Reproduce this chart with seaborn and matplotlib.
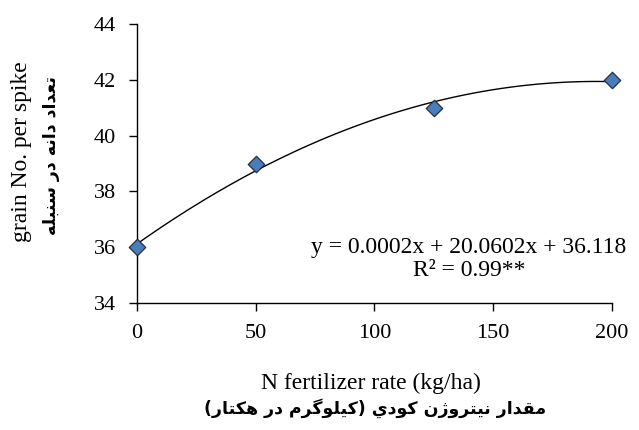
"""
Grain number per spike vs. N fertilizer rate, with quadratic trend line.
Writes out.png (639x430).
"""
import matplotlib
matplotlib.use("Agg")
import matplotlib.pyplot as plt
import numpy as np
import pandas as pd
import seaborn as sns

# data
n_rate = [0, 50, 125, 200]
grains = [36, 39, 41, 42]
x_ticks = [0, 50, 100, 150, 200]
y_ticks = [34, 36, 38, 40, 42, 44]

EQUATION = "y = 0.0002x + 20.0602x + 36.118"
R2_TEXT = "R\u00b2 = 0.99**"
X_LABEL_EN = "N fertilizer rate (kg/ha)"
Y_LABEL_EN = "grain No. per spike"

# Persian labels, pre-shaped (presentation forms) and in visual LTR order,
# since matplotlib does no bidi/shaping on its own.
# "تعداد دانه در سنبله"
Y_LABEL_FA = ("\ufeea\ufee0\ufe92\ufee8\ufeb3 "
              "\ufead\ufea9 "
              "\ufeea\ufee7\ufe8d\ufea9 "
              "\ufea9\ufe8d\ufeaa\ufecc\ufe97")
# "مقدار نیتروژن کودی (کیلوگرم در هکتار)"
X_LABEL_FA = ("(\ufead\ufe8e\ufe98\ufb91\ufeeb "
              "\ufead\ufea9 "
              "\ufee1\ufeae\ufb94\ufeee\ufee0\ufef4\ufb90) "
              "\ufef1\ufea9\ufeee\ufb90 "
              "\ufee5\ufb8a\ufeed\ufeae\ufe98\ufef4\ufee7 "
              "\ufead\ufe8d\ufeaa\ufed8\ufee3")

SERIF = ["Liberation Serif", "DejaVu Serif"]
ARABIC = ["DejaVu Sans"]
MARKER_FILL = "#4a7ebb"
MARKER_EDGE = "#1f2f4a"


def main() -> None:
    sns.set_style("ticks")
    plt.rcParams["font.family"] = SERIF
    plt.rcParams["font.size"] = 16
    plt.rcParams["text.color"] = "black"

    df = pd.DataFrame({"n_rate": n_rate, "grains": grains})

    fig = plt.figure(figsize=(6.39, 4.30), dpi=100)
    ax = fig.add_axes([0.2144, 0.2953, 0.7433, 0.6489])

    # quadratic trend line (Excel-style polynomial fit)
    sns.regplot(data=df, x="n_rate", y="grains", order=2, ci=None,
                scatter=False, truncate=True, ax=ax,
                line_kws={"color": "black", "lw": 1.0})
    sns.scatterplot(data=df, x="n_rate", y="grains", marker="D", s=70,
                    color=MARKER_FILL, edgecolor=MARKER_EDGE, linewidth=0.9,
                    ax=ax, zorder=5, clip_on=False)

    ax.set_xlim(0, 200)
    ax.set_ylim(34, 44)
    ax.set_xticks(x_ticks)
    ax.set_yticks(y_ticks)
    ax.tick_params(axis="both", direction="out", length=6, width=1,
                   color="black", labelsize=16, labelcolor="black")
    ax.tick_params(axis="x", pad=9)
    ax.tick_params(axis="y", pad=9)
    for side in ("top", "right"):
        ax.spines[side].set_visible(False)
    for side in ("left", "bottom"):
        ax.spines[side].set_color("black")
        ax.spines[side].set_linewidth(1.0)
    ax.set_xlabel("")
    ax.set_ylabel("")

    ax.text(0.699, 0.200, EQUATION, transform=ax.transAxes, ha="center",
            va="center", fontsize=17, family=SERIF)
    ax.text(0.699, 0.118, R2_TEXT, transform=ax.transAxes, ha="center",
            va="center", fontsize=17, family=SERIF)

    # two-line axis titles (English + Persian)
    fig.text(371 / 639, 1 - 383 / 430, X_LABEL_EN, ha="center", va="center",
             fontsize=17, family=SERIF)
    fig.text(375 / 639, 1 - 408 / 430, X_LABEL_FA, ha="center", va="center",
             fontsize=12.5, family=ARABIC, weight="bold")
    fig.text(22 / 639, 1 - 152 / 430, Y_LABEL_EN, ha="center", va="center",
             rotation=90, fontsize=17, family=SERIF)
    fig.text(51 / 639, 1 - 156 / 430, Y_LABEL_FA, ha="center", va="center",
             rotation=90, fontsize=12.5, family=ARABIC, weight="bold")

    fig.savefig("out.png", dpi=100)
    plt.close(fig)


if __name__ == "__main__":
    main()
